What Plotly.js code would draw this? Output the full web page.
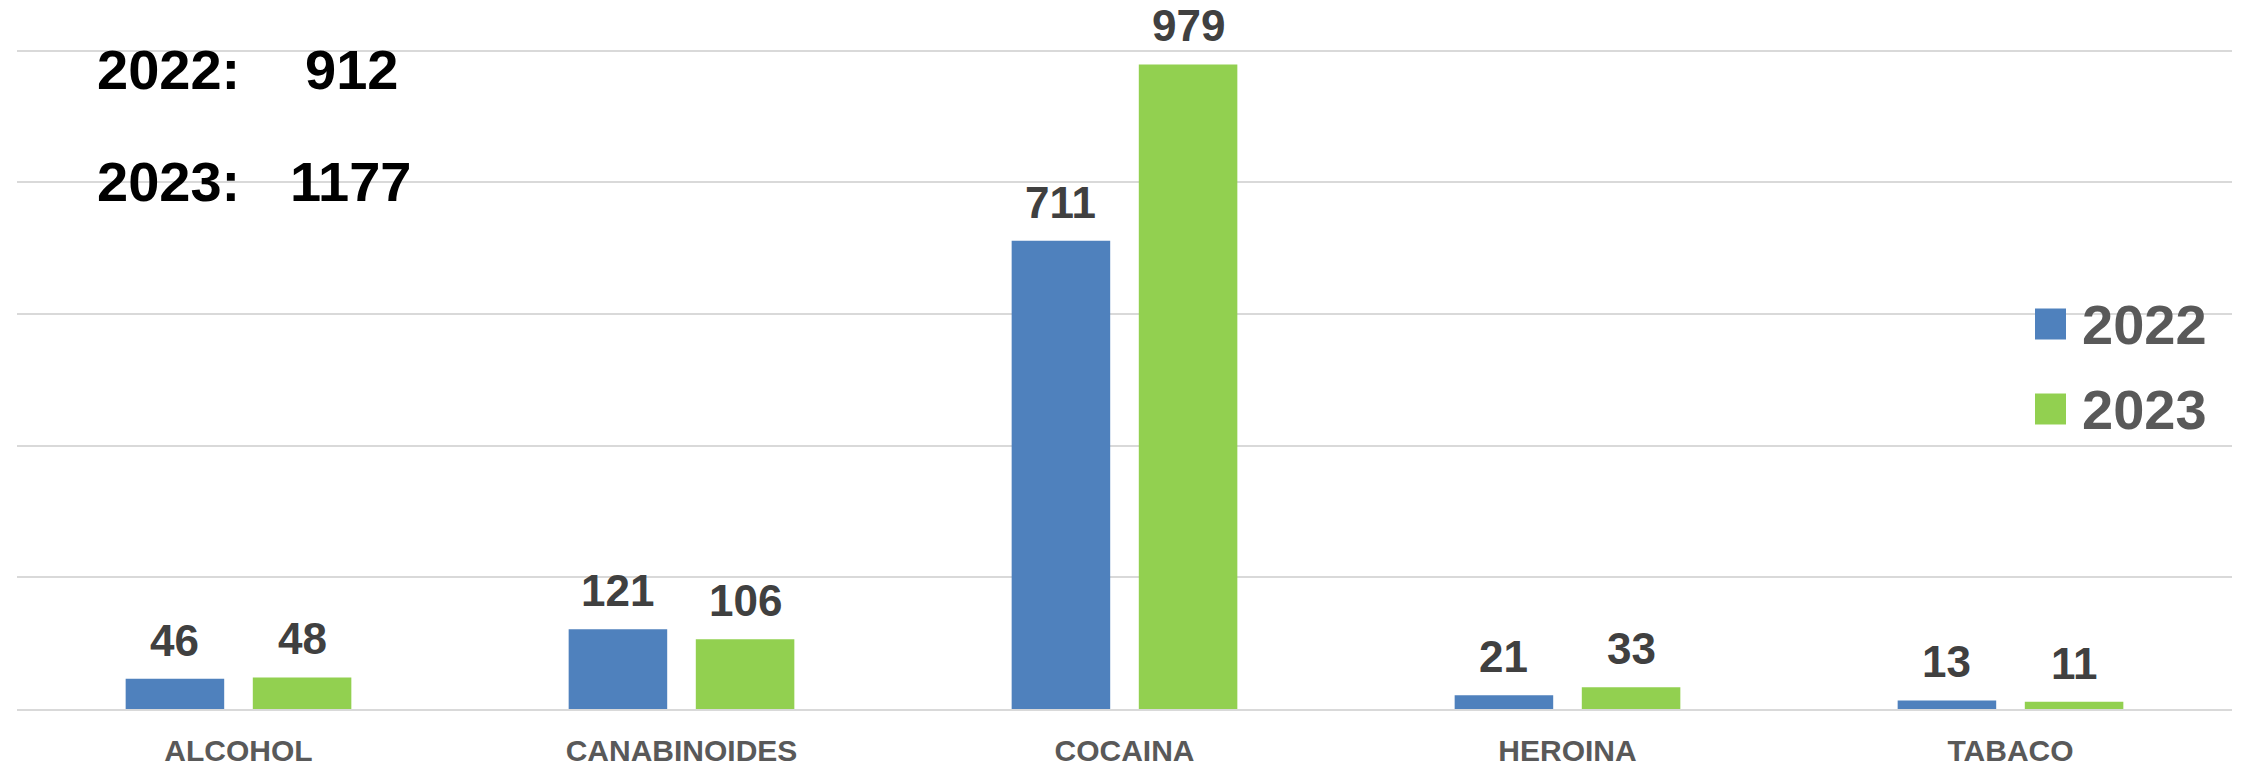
<!DOCTYPE html>
<html>
<head>
<meta charset="utf-8">
<script src="https://cdn.plot.ly/plotly-3.0.1.min.js"></script>
<style>html,body{margin:0;padding:0;background:#fff}#chart{width:2241px;height:766px}</style>
</head>
<body>
<div id="chart"></div>
<script>
const categories = ["ALCOHOL", "CANABINOIDES", "COCAINA", "HEROINA", "TABACO"];
const seriesNames = ["2022", "2023"];
const values2022 = [46, 121, 711, 21, 13];
const values2023 = [48, 106, 979, 33, 11];
const seriesColors = ["#4F81BD", "#92D050"];

const FONT = "Arial, 'Liberation Sans', sans-serif";
const bargap = 0.426;
const bargroupgap = 0.225;
const allValues = [values2022, values2023];

const TOP = 44, PLOT_H = 766 - 44 - 57, LEFT = 17, PLOT_W = 2241 - 17 - 9;
const py = (y) => 1 - (y - TOP) / PLOT_H;
const px = (x) => (x - LEFT) / PLOT_W;

const traces = allValues.map((vals, i) => ({
  type: "bar",
  name: seriesNames[i],
  x: categories,
  y: vals,
  marker: {color: seriesColors[i]},
  showlegend: false,
  hoverinfo: "x+y+name"
}));

const annotations = [];
const slot = (1 - bargap) / 2;
allValues.forEach((vals, s) => {
  vals.forEach((v, i) => {
    annotations.push({
      x: i + (s === 0 ? -slot / 2 : slot / 2),
      y: v, xref: "x", yref: "y",
      text: String(v), showarrow: false,
      yanchor: "bottom", xanchor: "center", yshift: 12,
      font: {family: FONT, size: 44, color: "#404040", weight: "bold"}
    });
  });
});

// totals block (top-left)
const totals = allValues.map(vals => vals.reduce((a, b) => a + b, 0));
const totalY = [69, 181];
totals.forEach((t, s) => {
  annotations.push({
    xref: "paper", yref: "paper", x: px(95), y: py(totalY[s]),
    xanchor: "left", yanchor: "middle", showarrow: false,
    text: seriesNames[s] + ":",
    font: {family: FONT, size: 56, color: "#000000", weight: "bold"}
  });
  annotations.push({
    xref: "paper", yref: "paper", x: px(351), y: py(totalY[s]),
    xanchor: "center", yanchor: "middle", showarrow: false,
    text: String(t),
    font: {family: FONT, size: 56, color: "#000000", weight: "bold"}
  });
});

// legend
const shapes = [];
const legY = [324, 409];
seriesNames.forEach((n, s) => {
  const yc = py(legY[s]);
  const h = 31 / PLOT_H;
  shapes.push({
    type: "rect", xref: "paper", yref: "paper",
    x0: px(2035), x1: px(2066),
    y0: yc - h / 2, y1: yc + h / 2,
    fillcolor: seriesColors[s], line: {width: 0}
  });
  annotations.push({
    xref: "paper", yref: "paper", x: px(2080), y: yc,
    xanchor: "left", yanchor: "middle", showarrow: false,
    text: n,
    font: {family: FONT, size: 56, color: "#595959", weight: "bold"}
  });
});

const layout = {
  width: 2241, height: 766,
  margin: {l: 17, r: 9, t: TOP, b: 57},
  paper_bgcolor: "#ffffff", plot_bgcolor: "#ffffff",
  barmode: "group", bargap: bargap, bargroupgap: bargroupgap,
  xaxis: {
    type: "category",
    tickfont: {family: FONT, size: 30, color: "#595959", weight: "bold"},
    showline: true, linecolor: "#d9d9d9", linewidth: 2,
    ticks: "", showgrid: false, ticklabelstandoff: 14
  },
  yaxis: {
    range: [0, 1010], tickvals: [200, 400, 600, 800, 1000], showticklabels: false,
    showgrid: true, gridcolor: "#d9d9d9", gridwidth: 2,
    zeroline: false, showline: false, ticks: ""
  },
  annotations: annotations,
  shapes: shapes,
  font: {family: FONT}
};

Plotly.newPlot("chart", traces, layout, {displayModeBar: false, staticPlot: true});
</script>
</body>
</html>
